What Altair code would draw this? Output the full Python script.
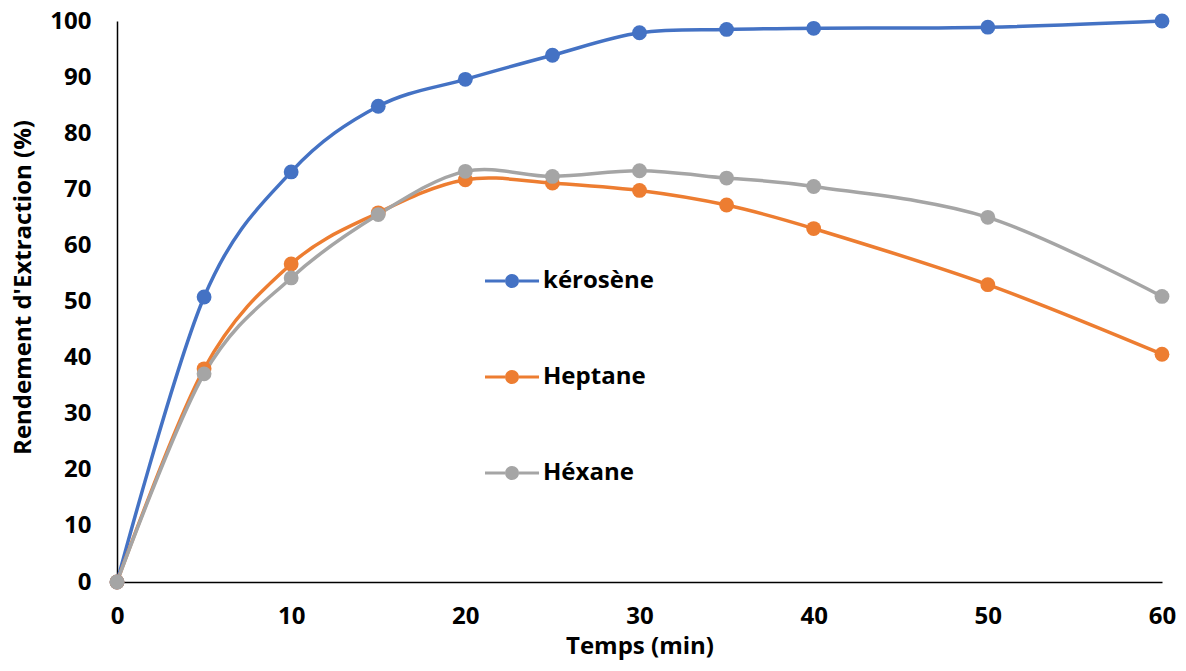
import altair as alt
import pandas as pd

# Extraction yield (%) versus contact time (min) for three solvents
temps = [0, 5, 10, 15, 20, 25, 30, 35, 40, 50, 60]
kerosene = [0, 50.8, 73.1, 84.8, 89.6, 93.9, 97.9, 98.5, 98.7, 98.9, 100]
heptane = [0, 38.0, 56.7, 65.8, 71.7, 71.1, 69.8, 67.2, 63.0, 53.0, 40.6]
hexane = [0, 37.1, 54.2, 65.5, 73.2, 72.3, 73.3, 72.0, 70.5, 65.0, 50.9]

solvants = ["kérosène", "Heptane", "Héxane"]
codes = ["kero", "hept", "hexa"]
couleurs = ["#4472C4", "#ED7D31", "#A5A5A5"]

rows = []
for nom, code, serie in zip(solvants, codes, [kerosene, heptane, hexane]):
    for t, v in zip(temps, serie):
        rows.append({"solvant": nom, "code": code, "temps": t, "rendement": v})
df = pd.DataFrame(rows)

FONT = "Open Sans"

x = alt.X("temps:Q", title="Temps (min)",
          scale=alt.Scale(domain=[0, 60], nice=False),
          axis=alt.Axis(values=[0, 10, 20, 30, 40, 50, 60], grid=False, ticks=False,
                        labelFlush=False, domainColor="black", domainWidth=1.5,
                        labelFont=FONT, labelFontSize=24, labelFontWeight="bold",
                        labelColor="black", labelPadding=22,
                        titleFont=FONT, titleFontSize=24, titleFontWeight="bold",
                        titleColor="black", titlePadding=6))
y = alt.Y("rendement:Q", title="Rendement d'Extraction (%)",
          scale=alt.Scale(domain=[0, 100], nice=False),
          axis=alt.Axis(values=list(range(0, 101, 10)), grid=False, ticks=False,
                        labelFlush=False, domainColor="black", domainWidth=1.5,
                        labelFont=FONT, labelFontSize=24, labelFontWeight="bold",
                        labelColor="black", labelPadding=26,
                        titleFont=FONT, titleFontSize=24, titleFontWeight="bold",
                        titleColor="black", titlePadding=14, titleY=266))

# legend glyph: short line with a dot in the middle
glyph = ("M-3.86,-0.22 L-1,-0.22 L-1,0.22 L-3.86,0.22 Z "
         "M1,-0.22 L3.86,-0.22 L3.86,0.22 L1,0.22 Z "
         "M-1,0 A1,1 0 1,1 1,0 A1,1 0 1,1 -1,0 Z")

lignes = alt.Chart(df).mark_line(interpolate="cardinal", tension=0.0, strokeWidth=3.5).encode(
    x=x, y=y,
    stroke=alt.Stroke("code:N", scale=alt.Scale(domain=codes, range=couleurs), legend=None),
    order=alt.Order("temps:Q"),
)

points = alt.Chart(df).mark_circle(size=220, opacity=1).encode(
    x=x, y=y,
    fill=alt.Fill("solvant:N", scale=alt.Scale(domain=solvants, range=couleurs),
                  legend=alt.Legend(orient="none", legendX=383, legendY=248,
                                    direction="vertical", title=None, padding=0,
                                    symbolType=glyph, symbolSize=196, symbolStrokeWidth=0,
                                    symbolOpacity=1,
                                    labelFont=FONT, labelFontSize=24, labelFontWeight="bold",
                                    labelColor="black", labelOffset=19, rowPadding=72)),
)

chart = alt.layer(lignes, points).properties(
    width=1045, height=561,
    autosize=alt.AutoSizeParams(type="none"),
    padding={"left": 117, "top": 21, "right": 24, "bottom": 89},
).configure_view(stroke=None)

chart.save("out.html", embed_options={"renderer": "svg", "actions": False})
